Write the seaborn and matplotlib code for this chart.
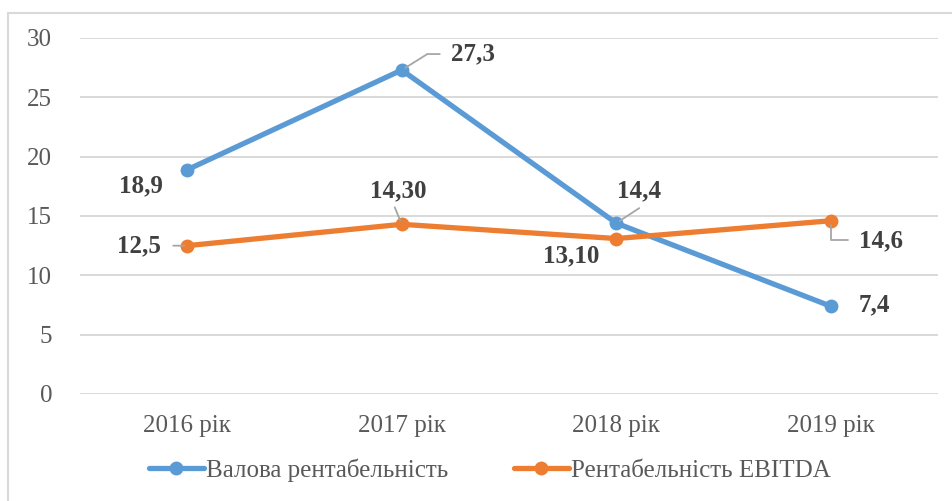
import matplotlib
matplotlib.use("Agg")
import matplotlib.pyplot as plt
from matplotlib.lines import Line2D
import seaborn as sns
import pandas as pd

# ---- data ----
years = ["2016 рік", "2017 рік", "2018 рік", "2019 рік"]
gross = [18.9, 27.3, 14.4, 7.4]
ebitda = [12.5, 14.3, 13.1, 14.6]
gross_labels = ["18,9", "27,3", "14,4", "7,4"]
ebitda_labels = ["12,5", "14,30", "13,10", "14,6"]
series_names = ["Валова рентабельність", "Рентабельність EBITDA"]
yticks = [0, 5, 10, 15, 20, 25, 30]

df = pd.DataFrame({
    "year": years * 2,
    "value": gross + ebitda,
    "series": [series_names[0]] * 4 + [series_names[1]] * 4,
})

sns.set_style("white")
plt.rcParams["font.family"] = ["Liberation Serif", "DejaVu Serif"]

BLUE = "#5B9BD5"
ORANGE = "#ED7D31"
TICK = "#595959"
LAB = "#404040"
GRID = "#D9D9D9"
LEAD = "#A6A6A6"
FS = 18

fig = plt.figure(figsize=(9.52, 5.01), dpi=100)
ax = fig.add_axes([80 / 952, 1 - 394 / 501, (938 - 80) / 952, (394 - 38) / 501])

sns.lineplot(data=df, x="year", y="value", hue="series",
             palette={series_names[0]: BLUE, series_names[1]: ORANGE},
             marker="o", markersize=10, markeredgewidth=0, linewidth=3.8,
             sort=False, ax=ax, legend=False)

ax.set_xlim(-0.5, 3.5)
ax.set_ylim(0, 30)
ax.set_yticks(yticks)
ax.set_yticklabels([str(t) for t in yticks])
ax.set_xlabel("")
ax.set_ylabel("")
for s in ax.spines.values():
    s.set_visible(False)
ax.yaxis.grid(True, color=GRID, linewidth=1.4)
ax.xaxis.grid(False)
ax.set_axisbelow(True)
ax.tick_params(axis="y", length=0, pad=20, labelsize=FS, labelcolor=TICK)
ax.tick_params(axis="x", length=0, pad=15, labelsize=FS, labelcolor=TICK)

# data labels: (text offset dx, dy in pixels), leader
lab_kw = dict(textcoords="offset pixels", ha="center", va="center",
              fontsize=FS, fontweight="bold", color=LAB)
gross_off = [(-46, -16), (71, 16), (23, 32), (44, 1)]
ebitda_off = [(-48, 0), (-4, 33), (-45, -17), (50, -20)]
for i, (v, t, o) in enumerate(zip(gross, gross_labels, gross_off)):
    ax.annotate(t, xy=(i, v), xytext=o, **lab_kw)
for i, (v, t, o) in enumerate(zip(ebitda, ebitda_labels, ebitda_off)):
    ax.annotate(t, xy=(i, v), xytext=o, **lab_kw)

def leader(i, v, start, conn="arc3", shrinkB=3):
    ax.annotate("", xy=(i, v), xytext=start, textcoords="offset pixels",
                arrowprops=dict(arrowstyle="-", color=LEAD, lw=1.3,
                                shrinkA=0, shrinkB=shrinkB,
                                connectionstyle=conn))

leader(1, gross[1], (38, 16), "angle,angleA=0,angleB=32,rad=0")
leader(2, gross[2], (23, 15))
leader(0, ebitda[0], (-14, 0), shrinkB=2)
leader(1, ebitda[1], (-7, 17))
leader(3, ebitda[3], (17, -19), "angle,angleA=0,angleB=90,rad=0")

# legend
handles = [Line2D([], [], color=c, lw=3.8, marker="o", markersize=10,
                  markeredgewidth=0) for c in (BLUE, ORANGE)]
leg = fig.legend(handles, series_names, loc="center",
                 bbox_to_anchor=(490 / 952, 1 - 470 / 501), ncol=2,
                 frameon=False, fontsize=FS, handlelength=2.2,
                 handletextpad=0.1, columnspacing=2.6)
for t in leg.get_texts():
    t.set_color(TICK)

# outer chart border (left and top visible)
x0 = 8 / 952
y0 = 1 - 13 / 501
fig.add_artist(Line2D([x0, x0], [0, y0], color=GRID, lw=1.5, transform=fig.transFigure))
fig.add_artist(Line2D([x0, 1], [y0, y0], color=GRID, lw=1.5, transform=fig.transFigure))

fig.savefig("out.png", dpi=100, facecolor="white")
